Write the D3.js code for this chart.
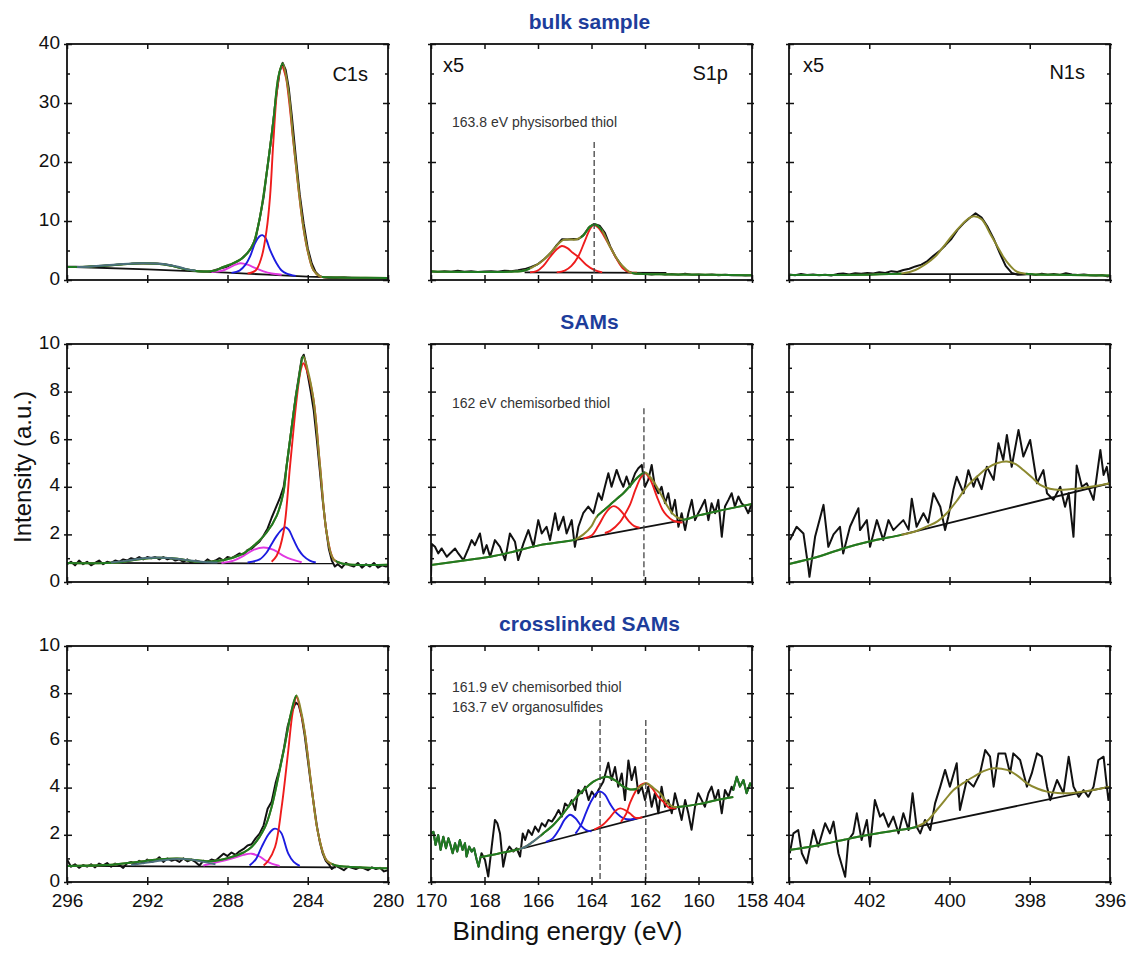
<!DOCTYPE html>
<html>
<head>
<meta charset="utf-8">
<script src="https://cdn.jsdelivr.net/npm/d3@7"></script>
<style>
  body { margin: 0; background: #fff; }
  text { font-family: "Liberation Sans", Arial, sans-serif; }
</style>
</head>
<body>
<script>
// ---- axes / categories ----
const rowTitles = ['bulk sample', 'SAMs', 'crosslinked SAMs'];
const xDomains = [[296, 280], [170, 158], [404, 396]];
const xTickVals = [[296, 292, 288, 284, 280], [170, 168, 166, 164, 162, 160, 158], [404, 402, 400, 398, 396]];
const yDomains = [[0, 40], [0, 10], [0, 10]];
const yTickVals = [[0, 10, 20, 30, 40], [0, 2, 4, 6, 8, 10], [0, 2, 4, 6, 8, 10]];
const yMinorVals = [[5, 15, 25, 35], [1, 3, 5, 7, 9], [1, 3, 5, 7, 9]];

// ---- C1s, bulk sample ---- [binding energy eV, intensity]
const c1sBulkRaw = [[296,2.2],[295.6,2.25],[295.2,2.2],[294.8,2.3],[294.4,2.35],[294,2.45],[293.6,2.55],[293.2,2.7],[292.8,2.75],[292.4,2.85],[292,2.8],[291.6,2.8],[291.2,2.7],[290.8,2.45],[290.4,2.1],[290,1.75],[289.6,1.55],[289.2,1.45],[288.8,1.5],[288.4,1.9],[288,2.3],[287.6,3.0],[287.3,3.6],[287,4.6],[286.8,5.5],[286.6,7.0],[286.4,10.3],[286.2,14.0],[286,19.3],[285.8,24.5],[285.6,30.5],[285.4,35.3],[285.25,36.8],[285.1,35.6],[284.95,32.6],[284.8,28],[284.6,21],[284.4,14.5],[284.2,9.5],[284,5.4],[283.8,2.8],[283.6,1.3],[283.4,0.65],[283.2,0.45],[283,0.4],[282.6,0.35],[282.2,0.42],[281.8,0.35],[281.4,0.3],[281,0.36],[280.6,0.3],[280.2,0.32],[280,0.3]];
const c1sBulkEnv = [[296,2.2],[295,2.25],[294,2.45],[293,2.7],[292.3,2.85],[291.5,2.75],[290.8,2.4],[290.2,1.9],[289.5,1.5],[289,1.45],[288.6,1.6],[288.37,1.98],[287.9,2.6],[287.38,3.4],[287,4.6],[286.71,6.2],[286.38,10.7],[286.05,18.1],[285.71,27.1],[285.46,34.5],[285.25,36.7],[284.97,32.2],[284.72,23.7],[284.47,15.8],[284.22,9.0],[283.97,4.5],[283.72,1.7],[283.39,0.6],[283,0.45],[282,0.4],[280,0.35]];
const c1sBulkBg = [[296,2.25],[292,1.8],[288,1.24],[286,0.9],[284,0.56],[282,0.38],[280,0.28]];
const c1sBulkRed = [[287.0,1.1],[286.6,1.6],[286.3,3.9],[286.05,8.5],[285.88,14.1],[285.71,23.7],[285.5,33],[285.3,36.2],[285.1,34.5],[284.97,31.5],[284.72,23.5],[284.47,15.6],[284.22,8.9],[283.97,4.4],[283.72,1.7],[283.4,0.6],[283.0,0.45]];
const c1sBulkBlue = [[287.8,1.2],[287.4,1.6],[287.1,2.6],[286.88,3.95],[286.63,6.2],[286.4,7.4],[286.26,7.6],[286.1,7.1],[285.88,5.1],[285.55,2.8],[285.3,1.6],[285.05,1.1],[284.6,0.7]];
const c1sBulkMag = [[288.8,1.35],[288.3,1.55],[287.9,2.1],[287.6,2.6],[287.35,2.85],[287.0,2.6],[286.6,2.0],[286.2,1.45],[285.8,1.1],[285.3,0.9]];
const c1sBulkHump = [[295.5,2.2],[294.8,2.3],[294,2.5],[293.2,2.72],[292.4,2.85],[291.6,2.8],[290.9,2.55],[290.4,2.2],[290,1.8],[289.6,1.6]];

// ---- C1s, SAMs ----
const c1sSamRaw = [[296,0.75],[295.8,0.85],[295.6,0.7],[295.4,0.9],[295.2,0.75],[295,0.85],[294.8,0.7],[294.6,0.8],[294.4,0.9],[294.2,0.75],[294,0.85],[293.8,0.8],[293.6,0.9],[293.4,0.85],[293.2,0.95],[293,0.9],[292.8,1.0],[292.6,0.95],[292.4,1.05],[292.2,0.95],[292,1.05],[291.8,1.0],[291.6,1.05],[291.4,0.95],[291.2,1.05],[291,0.95],[290.8,1.0],[290.6,0.9],[290.4,0.95],[290.2,0.85],[290,0.95],[289.8,0.8],[289.6,0.9],[289.4,0.85],[289.2,0.8],[289,0.95],[288.8,0.85],[288.6,0.9],[288.4,1.0],[288.2,0.9],[288,1.05],[287.8,1.0],[287.6,1.1],[287.4,1.2],[287.2,1.15],[287,1.35],[286.8,1.4],[286.6,1.55],[286.4,1.7],[286.2,1.95],[286,2.25],[285.8,2.7],[285.6,3.1],[285.4,3.5],[285.2,4.0],[285.0,5.2],[284.8,6.5],[284.6,7.8],[284.45,8.6],[284.3,9.4],[284.2,9.55],[284.1,9.2],[284.0,8.7],[283.85,8.0],[283.7,7.2],[283.55,6.0],[283.4,4.7],[283.25,3.4],[283.1,2.3],[282.95,1.4],[282.8,0.9],[282.65,0.65],[282.5,0.75],[282.3,0.6],[282.1,0.8],[281.9,0.7],[281.7,0.65],[281.5,0.8],[281.3,0.6],[281.1,0.75],[280.9,0.65],[280.7,0.8],[280.5,0.6],[280.3,0.7],[280.1,0.65],[280,0.7]];
const c1sSamEnv = [[296,0.8],[293.5,0.82],[292.5,0.95],[291.5,1.02],[290.5,0.98],[289.5,0.85],[288.5,0.88],[287.7,1.03],[287.2,1.2],[286.7,1.52],[286.05,2.08],[285.55,2.78],[285.21,3.77],[285.05,4.9],[284.88,6.0],[284.63,7.57],[284.47,8.41],[284.22,9.47],[284.0,8.9],[283.72,7.7],[283.39,4.9],[283.06,2.08],[282.72,0.96],[282.3,0.78],[280,0.72]];
const c1sSamBg = [[296,0.8],[282.7,0.78]];
const c1sSamRed = [[285.8,0.85],[285.55,1.1],[285.21,2.08],[284.88,4.9],[284.55,7.7],[284.35,8.9],[284.22,9.19],[284.05,8.9],[283.72,7.7],[283.39,4.9],[283.06,2.08],[282.72,0.96],[282.4,0.8]];
const c1sSamBlue = [[287,0.82],[286.4,0.95],[286.05,1.24],[285.8,1.6],[285.55,1.94],[285.3,2.2],[285.13,2.3],[284.95,2.2],[284.72,1.8],[284.45,1.35],[284.22,1.1],[283.9,0.9],[283.6,0.82]];
const c1sSamMag = [[288.3,0.8],[287.7,0.9],[287.2,1.1],[286.7,1.35],[286.2,1.45],[285.7,1.35],[285.21,1.1],[284.8,0.95],[284.3,0.83]];
const c1sSamHump = [[293.8,0.82],[293,0.9],[292.2,1.0],[291.5,1.03],[290.8,1.0],[290,0.92],[289.2,0.84],[288.5,0.82]];

// ---- C1s, crosslinked SAMs ----
const c1sXlRaw = [[296,0.95],[295.8,0.65],[295.6,0.75],[295.4,0.6],[295.2,0.72],[295,0.65],[294.8,0.75],[294.6,0.62],[294.4,0.78],[294.2,0.7],[294,0.8],[293.8,0.65],[293.6,0.78],[293.4,0.72],[293.2,0.6],[293,0.8],[292.8,0.85],[292.6,0.75],[292.4,0.9],[292.2,0.8],[292,0.95],[291.8,0.85],[291.6,0.9],[291.4,1.05],[291.2,0.85],[291,1.0],[290.8,0.9],[290.6,0.95],[290.4,0.85],[290.2,1.0],[290,0.88],[289.8,0.95],[289.6,0.85],[289.4,0.7],[289.2,0.9],[289,0.85],[288.8,0.95],[288.6,0.9],[288.4,1.05],[288.2,1.2],[288,1.1],[287.8,1.25],[287.6,1.15],[287.4,1.3],[287.2,1.4],[287,1.55],[286.8,1.6],[286.6,1.85],[286.4,2.05],[286.2,2.4],[286,3.1],[285.8,3.4],[285.6,4.2],[285.4,4.8],[285.2,5.6],[285,6.6],[284.8,7.2],[284.6,7.6],[284.45,7.5],[284.3,7.0],[284.15,6.2],[284,5.2],[283.85,4.2],[283.7,3.3],[283.55,2.4],[283.4,1.7],[283.25,1.2],[283.1,0.9],[282.95,0.75],[282.8,0.55],[282.6,0.68],[282.4,0.6],[282.2,0.5],[282,0.65],[281.8,0.6],[281.6,0.55],[281.4,0.62],[281.2,0.58],[281,0.5],[280.8,0.62],[280.6,0.55],[280.4,0.6],[280.2,0.45],[280,0.5]];
const c1sXlEnv = [[296,0.68],[294,0.72],[292.5,0.85],[291.5,0.95],[290.5,1.0],[289.5,0.92],[288.8,0.88],[287.8,1.06],[287.2,1.25],[286.8,1.48],[286.13,2.33],[285.8,3.18],[285.47,4.45],[285.13,5.86],[284.8,7.28],[284.56,7.9],[284.3,7.1],[284.14,6.29],[283.81,4.03],[283.48,2.05],[283.06,0.92],[282.6,0.7],[282,0.65],[280,0.58]];
const c1sXlBg = [[296,0.68],[282.6,0.62]];
const c1sXlRed = [[286.2,0.7],[285.97,0.9],[285.63,1.48],[285.3,3.18],[284.97,5.58],[284.75,7.2],[284.56,7.84],[284.35,7.2],[284.14,6.29],[283.81,4.03],[283.48,2.05],[283.06,0.92],[282.6,0.7]];
const c1sXlBlue = [[286.9,0.7],[286.6,0.95],[286.3,1.48],[285.97,2.0],[285.75,2.22],[285.63,2.26],[285.45,2.2],[285.3,2.05],[284.97,1.2],[284.7,0.85],[284.4,0.68]];
const c1sXlMag = [[289.2,0.7],[288.8,0.78],[287.8,0.99],[287.2,1.15],[286.8,1.2],[286.4,1.08],[286.13,0.92],[285.8,0.78],[285.4,0.68]];
const c1sXlHump = [[292.8,0.72],[292,0.82],[291.2,0.92],[290.5,0.98],[289.8,0.95],[289.2,0.85],[288.6,0.75]];

// ---- S2p (labelled S1p), bulk sample, x5 ----
const s2pBulkRaw = [[170,1.5],[169.75,1.35],[169.5,1.5],[169.25,1.4],[169,1.55],[168.75,1.4],[168.5,1.5],[168.25,1.35],[168,1.45],[167.75,1.5],[167.5,1.4],[167.25,1.55],[167,1.5],[166.75,1.65],[166.5,1.85],[166.25,2.2],[166,2.7],[165.75,3.6],[165.5,4.7],[165.3,5.9],[165.1,6.9],[164.9,6.85],[164.7,6.95],[164.5,6.9],[164.3,7.6],[164.1,8.9],[163.9,9.5],[163.7,9.2],[163.5,8.0],[163.3,5.7],[163.1,3.9],[162.9,2.6],[162.7,1.6],[162.5,1.2],[162.25,1.0],[162,1.05],[161.75,0.95],[161.5,1.1],[161.25,0.95],[161,1.0],[160.75,0.9],[160.5,1.05],[160.25,0.9],[160,0.95],[159.75,0.85],[159.5,0.95],[159.25,0.8],[159,0.9],[158.75,0.8],[158.5,0.85],[158.25,0.75],[158,0.8]];
const s2pBulkEnv = [[170,1.45],[167,1.4],[166.5,1.6],[166.17,2.26],[165.9,3.0],[165.67,3.95],[165.4,5.3],[165.2,6.3],[165.05,6.8],[164.8,6.85],[164.55,6.9],[164.3,7.6],[164.06,9.04],[163.87,9.4],[163.62,8.5],[163.31,5.65],[162.93,2.83],[162.7,1.8],[162.56,1.3],[162.2,1.05],[161,0.95],[158,0.8]];
const s2pBulkBg = [[166.5,1.3],[161.2,1.2]];
const s2pBulkRedA = [[166.3,1.3],[166.05,1.5],[165.8,2.4],[165.55,3.9],[165.3,5.2],[165.11,5.76],[164.9,5.4],[164.7,4.6],[164.5,3.95],[164.2,2.6],[163.9,1.7],[163.6,1.3]];
const s2pBulkRedB = [[165.3,1.3],[165.0,1.6],[164.75,2.4],[164.5,3.95],[164.25,6.6],[164.06,8.6],[163.93,9.32],[163.75,8.9],[163.55,7.6],[163.31,5.65],[163.1,3.9],[162.81,1.9],[162.56,1.3],[162.3,1.24]];
const s2pBulkDash = [[163.9, 23.4, 1.2]]; // [energy, top, bottom]

// ---- S2p, SAMs ----
const s2pSamRaw = [[170,0.25],[169.97,1.6],[169.85,1.48],[169.73,1.2],[169.6,1.41],[169.41,1.06],[169.29,1.2],[169.1,1.41],[168.98,1.2],[168.79,0.92],[168.6,1.41],[168.48,1.76],[168.36,1.55],[168.17,2.04],[168.04,1.2],[167.92,1.55],[167.79,1.06],[167.61,1.76],[167.42,1.48],[167.23,0.92],[167.05,2.04],[166.86,1.69],[166.74,0.92],[166.55,1.6],[166.36,2.18],[166.17,1.48],[165.99,2.6],[165.86,2.04],[165.68,2.32],[165.55,1.76],[165.36,2.89],[165.24,2.18],[165.05,2.74],[164.93,2.04],[164.74,2.6],[164.62,1.48],[164.49,2.32],[164.31,2.89],[164.12,3.17],[163.93,2.89],[163.74,3.73],[163.62,3.45],[163.5,4.0],[163.37,4.57],[163.25,4.0],[163.06,4.71],[162.93,4.29],[162.81,4.0],[162.69,4.43],[162.56,4.0],[162.37,4.57],[162.25,4.78],[162.12,4.92],[162.0,4.0],[161.88,4.29],[161.75,4.92],[161.63,4.0],[161.5,3.73],[161.38,4.0],[161.25,3.31],[161.13,3.73],[161.0,2.89],[160.88,3.45],[160.75,2.32],[160.63,2.89],[160.5,2.18],[160.38,2.89],[160.25,3.45],[160.13,2.6],[160.01,2.89],[159.88,3.17],[159.76,3.45],[159.63,2.6],[159.51,3.31],[159.38,2.89],[159.26,3.45],[159.13,1.9],[159.01,3.17],[158.88,3.45],[158.76,3.73],[158.64,3.17],[158.51,3.59],[158.39,3.31],[158.26,3.17],[158.14,2.89],[158.01,3.31]];
const s2pSamEnv = [[170,0.71],[168.5,0.95],[167.79,1.06],[167,1.25],[165.93,1.55],[165,1.7],[164.62,1.78],[164.3,2.0],[164.0,2.35],[163.81,2.74],[163.55,3.0],[163.31,3.24],[163.05,3.5],[162.81,3.73],[162.55,4.05],[162.31,4.36],[162.0,4.6],[161.8,4.4],[161.56,4.0],[161.19,3.24],[160.95,2.85],[160.8,2.72],[160.57,2.62],[160,2.8],[159.07,3.03],[158,3.28]];
const s2pSamBg = [[164.62,1.76],[160.57,2.6]];
const s2pSamRedA = [[164.3,1.83],[164.0,1.95],[163.75,2.35],[163.5,2.85],[163.3,3.12],[163.16,3.19],[163.0,3.1],[162.8,2.85],[162.6,2.55],[162.4,2.35],[162.2,2.28]];
const s2pSamRedB = [[163.5,2.06],[163.3,2.15],[162.93,2.53],[162.75,2.85],[162.56,3.25],[162.35,3.9],[162.15,4.4],[162.0,4.57],[161.8,4.3],[161.56,3.6],[161.35,3.05],[161.19,2.8],[160.95,2.58],[160.6,2.5]];
const s2pSamDash = [[162.04, 7.3, 0]];

// ---- S2p, crosslinked SAMs ----
const s2pXlRaw = [[170,2.06],[169.91,2.13],[169.83,1.57],[169.73,1.99],[169.64,1.36],[169.54,1.92],[169.44,1.43],[169.35,1.85],[169.29,1.64],[169.19,1.22],[169.1,1.64],[169.02,1.29],[168.92,1.78],[168.82,1.36],[168.73,1.64],[168.67,1.08],[168.57,1.5],[168.48,1.29],[168.39,1.43],[168.29,0.93],[168.22,0.65],[168.17,0.93],[168.11,1.22],[167.98,0.93],[167.86,0.23],[167.73,1.5],[167.61,2.63],[167.52,2.49],[167.42,2.06],[167.3,0.65],[167.2,1.22],[167.07,1.5],[166.92,1.29],[166.8,1.43],[166.67,1.08],[166.57,2.06],[166.48,1.78],[166.36,2.2],[166.23,1.99],[166.11,2.35],[165.98,2.13],[165.86,2.49],[165.73,2.35],[165.61,2.63],[165.48,2.56],[165.36,2.77],[165.23,3.05],[165.11,2.77],[164.99,3.33],[164.86,3.19],[164.74,3.47],[164.61,3.05],[164.49,3.9],[164.36,3.76],[164.24,4.04],[164.11,3.47],[163.99,3.83],[163.86,3.61],[163.74,3.9],[163.56,4.25],[163.37,5.05],[163.25,4.32],[163.12,4.87],[163.0,4.04],[162.87,4.6],[162.75,3.47],[162.62,5.15],[162.5,4.32],[162.37,4.87],[162.25,3.76],[162.12,4.04],[162.0,3.47],[161.88,4.04],[161.75,3.19],[161.63,3.76],[161.5,2.91],[161.38,4.04],[161.25,3.19],[161.13,3.47],[161.0,2.91],[160.88,3.76],[160.75,3.19],[160.63,2.63],[160.5,3.47],[160.38,2.91],[160.26,2.21],[160.13,3.19],[160.01,3.76],[159.88,3.47],[159.76,3.19],[159.63,3.76],[159.51,4.04],[159.38,3.47],[159.26,3.9],[159.13,2.91],[159.01,3.9],[158.88,3.61],[158.76,4.04],[158.7,3.9],[158.57,4.46],[158.45,4.04],[158.32,4.32],[158.2,3.76],[158.07,4.18],[158,4.04]];
const s2pXlEnv = [[168.17,1.05],[167.5,1.2],[166.55,1.45],[166.2,1.7],[165.8,2.06],[165.4,2.45],[165.05,2.91],[164.75,3.35],[164.43,3.76],[164.15,4.05],[163.93,4.25],[163.65,4.4],[163.43,4.46],[163.1,4.3],[162.81,4.04],[162.55,3.92],[162.31,3.95],[162.1,4.1],[161.94,4.18],[161.7,4.0],[161.44,3.76],[161.2,3.4],[160.94,3.19],[160.6,3.2],[160.0,3.3],[159.4,3.45],[158.7,3.6]];
const s2pXlBg = [[166.55,1.43],[160.82,3.12]];
const s2pXlBlueA = [[165.7,1.7],[165.45,1.85],[165.2,2.25],[165.0,2.65],[164.8,2.85],[164.6,2.7],[164.4,2.4],[164.2,2.2],[164.0,2.15]];
const s2pXlBlueB = [[164.6,2.05],[164.4,2.4],[164.2,2.95],[164.0,3.45],[163.8,3.78],[163.66,3.83],[163.5,3.7],[163.3,3.3],[163.05,2.91],[162.8,2.7],[162.55,2.65],[162.3,2.7]];
const s2pXlRedA = [[163.9,2.22],[163.6,2.4],[163.3,2.75],[163.1,3.02],[162.93,3.12],[162.75,3.05],[162.56,2.9],[162.35,2.72],[162.1,2.75]];
const s2pXlRedB = [[162.9,2.55],[162.7,2.9],[162.56,3.35],[162.35,3.85],[162.15,4.12],[161.94,4.18],[161.75,4.0],[161.5,3.6],[161.31,3.4],[161.1,3.15],[160.85,3.12]];
const s2pXlDash = [[163.68, 6.86, 0], [161.97, 6.86, 0]];

// ---- N1s, bulk sample, x5 ----
const n1sBulkRaw = [[404,0.95],[403.85,0.8],[403.7,1.0],[403.55,0.85],[403.4,0.95],[403.25,0.8],[403.1,0.9],[402.95,0.75],[402.8,1.0],[402.65,1.1],[402.5,0.95],[402.35,1.15],[402.2,1.05],[402.05,1.2],[401.9,1.1],[401.75,1.3],[401.6,1.2],[401.45,1.5],[401.3,1.35],[401.15,1.7],[401,1.9],[400.85,2.3],[400.7,2.6],[400.55,3.2],[400.4,4.1],[400.25,4.9],[400.1,5.9],[399.95,7.0],[399.8,8.5],[399.65,9.6],[399.5,10.5],[399.35,11.3],[399.2,10.6],[399.05,9.0],[398.9,7.0],[398.75,4.6],[398.6,2.4],[398.45,1.2],[398.3,0.9],[398.15,0.95],[398,1.0],[397.85,0.85],[397.7,1.05],[397.55,0.9],[397.4,1.0],[397.25,0.85],[397.1,1.15],[396.95,0.95],[396.8,0.85],[396.65,0.95],[396.5,0.8],[396.35,0.75],[396.2,0.85],[396.05,0.6],[396,0.75]];
const n1sBulkEnv = [[404,0.85],[403,0.85],[402,0.9],[401.5,1.0],[401.15,1.13],[400.85,1.7],[400.57,2.8],[400.35,4.0],[400.15,5.65],[399.95,7.4],[399.74,9.04],[399.55,10.3],[399.4,10.8],[399.2,10.3],[398.99,7.9],[398.8,5.6],[398.66,3.95],[398.5,2.5],[398.32,1.4],[398.1,1.05],[397.9,0.95],[397,0.85],[396,0.75]];
const n1sBulkBg = [[401.5,1.0],[398.1,1.0]];

// ---- N1s, SAMs ----
const n1sSamRaw = [[403.98,1.76],[403.81,2.32],[403.64,2.04],[403.52,0.64],[403.49,0.22],[403.35,1.9],[403.14,3.24],[403.02,1.48],[402.89,2.0],[402.73,2.32],[402.65,1.2],[402.48,2.32],[402.27,3.1],[402.23,2.18],[402.06,2.6],[401.98,1.48],[401.81,2.6],[401.65,1.76],[401.52,2.6],[401.4,2.18],[401.27,2.4],[401.15,2.6],[401.02,2.2],[400.94,3.5],[400.82,2.32],[400.65,2.89],[400.53,2.5],[400.4,3.73],[400.23,3.16],[400.11,2.18],[400.03,2.74],[399.9,3.9],[399.82,4.42],[399.65,3.73],[399.53,4.7],[399.4,4.0],[399.32,4.42],[399.2,3.9],[399.07,4.84],[398.9,4.29],[398.78,5.83],[398.66,5.13],[398.57,6.18],[398.45,4.84],[398.28,6.39],[398.16,5.27],[397.99,5.97],[397.82,4.15],[397.66,4.7],[397.57,3.73],[397.41,3.45],[397.24,4.0],[397.12,3.16],[397.03,3.73],[396.91,1.9],[396.83,4.9],[396.7,4.0],[396.58,4.15],[396.41,3.45],[396.24,5.55],[396.16,4.5],[396.08,4.84],[395.95,3.45]];
const n1sSamEnv = [[404,0.76],[403.3,1.05],[402.65,1.41],[402,1.7],[401.23,1.97],[400.9,2.1],[400.57,2.33],[400.3,2.55],[400.07,2.89],[399.8,3.45],[399.57,4.0],[399.3,4.45],[399.07,4.78],[398.8,5.0],[398.57,5.06],[398.35,4.95],[398.16,4.71],[397.95,4.4],[397.74,4.08],[397.5,3.92],[397.24,3.87],[397.0,3.9],[396.74,3.94],[396.4,4.02],[396,4.15]];
const n1sSamBg = [[401.23,1.97],[396,4.15]];

// ---- N1s, crosslinked SAMs ----
const n1sXlRaw = [[403.98,1.22],[403.89,2.06],[403.77,2.2],[403.68,1.22],[403.56,0.79],[403.39,2.2],[403.27,1.5],[403.1,2.49],[402.98,2.06],[402.89,2.56],[402.77,1.22],[402.6,0.22],[402.52,1.78],[402.4,2.06],[402.31,2.91],[402.19,1.78],[402.06,2.63],[401.98,1.5],[401.86,3.47],[401.73,2.77],[401.65,2.91],[401.52,2.34],[401.4,2.77],[401.27,2.06],[401.15,2.91],[401.02,2.2],[400.92,3.76],[400.82,2.34],[400.73,2.06],[400.61,2.63],[400.48,2.2],[400.36,3.33],[400.23,4.04],[400.11,4.75],[399.99,4.04],[399.82,5.03],[399.74,3.05],[399.57,4.32],[399.4,4.04],[399.24,4.6],[399.11,5.59],[398.99,5.31],[398.9,4.04],[398.78,5.45],[398.61,5.45],[398.49,4.6],[398.41,5.45],[398.24,5.17],[398.07,4.04],[397.95,4.6],[397.82,5.45],[397.7,5.31],[397.57,4.04],[397.49,3.47],[397.32,4.32],[397.16,3.76],[397.03,5.31],[396.91,4.04],[396.78,3.61],[396.66,3.9],[396.54,3.61],[396.41,4.04],[396.29,5.17],[396.16,5.31],[396.04,3.47],[395.95,4.25]];
const n1sXlEnv = [[404,1.36],[403.3,1.55],[402.6,1.8],[402,2.0],[401.4,2.17],[400.82,2.34],[400.55,2.6],[400.32,3.05],[400.1,3.5],[399.9,3.9],[399.65,4.2],[399.4,4.46],[399.15,4.7],[398.9,4.82],[398.57,4.75],[398.3,4.5],[398.07,4.18],[397.8,3.95],[397.57,3.83],[397.3,3.77],[397.07,3.76],[396.6,3.85],[396,4.04]];
const n1sXlBg = [[400.82,2.34],[396,4.04]];

// ---- layout & style ----
const colX = [[67, 388], [431, 752], [789, 1110]];
const rowY = [[44, 280], [344, 582], [646, 882]];
const COL = {
  black: '#111111', red: '#ee1c1c', blue: '#1c1ce0', magenta: '#e038e0',
  teal: '#4d707e', green: '#1f7a22', olive: '#8c892f', title: '#1d3d9b', note: '#333333',
};
const FONT = '"Liberation Sans", Arial, sans-serif';

// comps drawn before the envelope; tops drawn over it (the shake-up humps)
const panels = [
  { row: 0, col: 0, raw: c1sBulkRaw, bg: c1sBulkBg, env: c1sBulkEnv,
    envSpans: [[285.2, 296.5, 'green'], [279, 283.3, 'green']],
    comps: [[c1sBulkMag, 'magenta'], [c1sBulkBlue, 'blue'], [c1sBulkRed, 'red']],
    tops: [[c1sBulkHump, 'teal']],
    labels: [{ t: 'C1s', dx: -20, dy: 37, anchor: 'end', size: 20 }] },
  { row: 0, col: 1, raw: s2pBulkRaw, bg: s2pBulkBg, env: s2pBulkEnv,
    envSpans: [[166.3, 171, 'green'], [163.6, 164.4, 'green'], [157, 162.5, 'green']],
    comps: [[s2pBulkRedA, 'red'], [s2pBulkRedB, 'red']], dashes: s2pBulkDash,
    labels: [{ t: 'x5', dx: 12, dy: 28, size: 20 }, { t: 'S1p', dx: -24, dy: 36, anchor: 'end', size: 20 },
      { t: '163.8 eV physisorbed thiol', dx: 21, dy: 83, size: 14, fill: COL.note }] },
  { row: 0, col: 2, raw: n1sBulkRaw, bg: n1sBulkBg, env: n1sBulkEnv,
    envSpans: [[401.2, 405, 'green'], [395, 398.1, 'green']], comps: [],
    labels: [{ t: 'x5', dx: 14, dy: 28, size: 20 }, { t: 'N1s', dx: -25, dy: 35, anchor: 'end', size: 20 }] },
  { row: 1, col: 0, raw: c1sSamRaw, bg: c1sSamBg, env: c1sSamEnv,
    envSpans: [[284.2, 296.5, 'green'], [279, 282.6, 'green']],
    comps: [[c1sSamMag, 'magenta'], [c1sSamBlue, 'blue'], [c1sSamRed, 'red']],
    tops: [[c1sSamHump, 'teal']], labels: [] },
  { row: 1, col: 1, raw: s2pSamRaw, bg: s2pSamBg, env: s2pSamEnv,
    envSpans: [[164.6, 171, 'green'], [162.0, 163.8, 'green'], [157, 160.6, 'green']],
    comps: [[s2pSamRedA, 'red'], [s2pSamRedB, 'red']], dashes: s2pSamDash,
    labels: [{ t: '162 eV chemisorbed thiol', dx: 21, dy: 64, size: 14, fill: COL.note }] },
  { row: 1, col: 2, raw: n1sSamRaw, bg: n1sSamBg, env: n1sSamEnv,
    envSpans: [[401.2, 405, 'green']], comps: [], labels: [] },
  { row: 2, col: 0, raw: c1sXlRaw, bg: c1sXlBg, env: c1sXlEnv,
    envSpans: [[284.55, 296.5, 'green'], [279, 282.8, 'green']],
    comps: [[c1sXlMag, 'magenta'], [c1sXlBlue, 'blue'], [c1sXlRed, 'red']],
    tops: [[c1sXlHump, 'teal']], labels: [] },
  { row: 2, col: 1, raw: s2pXlRaw, bg: s2pXlBg, env: s2pXlEnv,
    rawSpans: [[168.15, 171, 'green'], [157, 158.72, 'green']],
    envSpans: [[165.9, 166.7, 'teal'], [162.3, 165.9, 'green'], [166.7, 169, 'green'], [157, 160.8, 'green']],
    comps: [[s2pXlBlueA, 'blue'], [s2pXlBlueB, 'blue'], [s2pXlRedA, 'red'], [s2pXlRedB, 'red']], dashes: s2pXlDash,
    labels: [{ t: '161.9 eV chemisorbed thiol', dx: 21, dy: 46, size: 14, fill: COL.note },
      { t: '163.7 eV organosulfides', dx: 21, dy: 66, size: 14, fill: COL.note }] },
  { row: 2, col: 2, raw: n1sXlRaw, bg: n1sXlBg, env: n1sXlEnv,
    envSpans: [[400.8, 405, 'green']], comps: [], labels: [] },
];

const svg = d3.select('body').append('svg')
  .attr('width', 1130)
  .attr('height', 953)
  .style('display', 'block');
const defs = svg.append('defs');
let clipCount = 0;

// clip path helper, returns url
function clipRect(x, y, w, h) {
  const id = `clip${clipCount += 1}`;
  defs.append('clipPath').attr('id', id)
    .append('rect').attr('x', x).attr('y', y).attr('width', w).attr('height', h);
  return `url(#${id})`;
}

const byEnergyDesc = (a, b) => b[0] - a[0];

panels.forEach((p) => {
  const [x0, x1] = colX[p.col];
  const [y0, y1] = rowY[p.row];
  const x = d3.scaleLinear().domain(xDomains[p.col]).range([x0, x1]);
  const y = d3.scaleLinear().domain(yDomains[p.row]).range([y1, y0]);

  const g = svg.append('g');
  const plot = g.append('g').attr('clip-path', clipRect(x0, y0, x1 - x0, y1 - y0));

  const rawLine = d3.line().x(d => x(d[0])).y(d => y(d[1]));
  const fitLine = d3.line().x(d => x(d[0])).y(d => y(d[1]))
    .curve(d3.curveCatmullRom.alpha(0.5));

  // spans are [eLow, eHigh, colour] -> clip rect in pixel space
  const spanClip = s => clipRect(x(s[1]), y0, x(s[0]) - x(s[1]), y1 - y0);

  // raw spectrum
  const raw = p.raw.slice().sort(byEnergyDesc);
  plot.append('path').datum(raw)
    .attr('d', rawLine).attr('fill', 'none')
    .attr('stroke', COL.black).attr('stroke-width', 2).attr('stroke-linejoin', 'round');
  (p.rawSpans || []).forEach((s) => {
    plot.append('g').attr('clip-path', spanClip(s))
      .append('path').datum(raw)
      .attr('d', rawLine).attr('fill', 'none')
      .attr('stroke', COL[s[2]]).attr('stroke-width', 2).attr('stroke-linejoin', 'round');
  });

  // background
  plot.append('path').datum(p.bg.slice().sort(byEnergyDesc))
    .attr('d', rawLine).attr('fill', 'none')
    .attr('stroke', COL.black).attr('stroke-width', 1.8);

  // fitted components
  const drawFit = ([data, c]) => {
    plot.append('path').datum(data.slice().sort(byEnergyDesc))
      .attr('d', fitLine).attr('fill', 'none')
      .attr('stroke', COL[c]).attr('stroke-width', 1.9);
  };
  p.comps.forEach(drawFit);

  // envelope: olive by default, other colours on spans
  const env = p.env.slice().sort(byEnergyDesc);
  plot.append('path').datum(env)
    .attr('d', fitLine).attr('fill', 'none')
    .attr('stroke', COL.olive).attr('stroke-width', 2);
  p.envSpans.forEach((s) => {
    plot.append('g').attr('clip-path', spanClip(s))
      .append('path').datum(env)
      .attr('d', fitLine).attr('fill', 'none')
      .attr('stroke', COL[s[2]]).attr('stroke-width', 2);
  });
  (p.tops || []).forEach(drawFit);

  // dashed position markers
  (p.dashes || []).forEach(([e, top, bot]) => {
    g.append('line')
      .attr('x1', x(e)).attr('x2', x(e))
      .attr('y1', y(top)).attr('y2', y(bot))
      .attr('stroke', '#444').attr('stroke-width', 1.3)
      .attr('stroke-dasharray', '6,3');
  });

  // ---- axes ----
  const styleAxis = (sel) => {
    sel.select('.domain').remove();
    sel.selectAll('.tick line').attr('stroke', COL.black).attr('stroke-width', 1.5);
    sel.selectAll('.tick text')
      .attr('font-size', 19).attr('font-family', FONT).attr('fill', COL.black);
  };
  const xt = xTickVals[p.col];
  const yt = yTickVals[p.row];
  const ym = yMinorVals[p.row];

  // bottom: outward part (with labels on last row) + inward part
  const bottomOut = d3.axisBottom(x).tickValues(xt).tickSizeInner(3).tickSizeOuter(0).tickPadding(9);
  if (p.row !== 2) bottomOut.tickFormat('');
  g.append('g').attr('transform', `translate(0,${y1})`).call(bottomOut).call(styleAxis);
  g.append('g').attr('transform', `translate(0,${y1})`)
    .call(d3.axisBottom(x).tickValues(xt).tickSizeInner(-5).tickSizeOuter(0).tickFormat(''))
    .call(styleAxis);
  // top
  g.append('g').attr('transform', `translate(0,${y0})`)
    .call(d3.axisTop(x).tickValues(xt).tickSizeInner(-5).tickSizeOuter(0).tickFormat(''))
    .call(styleAxis);

  // left: outward (labels on first column) + inward + minor
  const leftOut = d3.axisLeft(y).tickValues(yt).tickSizeInner(3).tickSizeOuter(0).tickPadding(4);
  if (p.col !== 0) leftOut.tickFormat('');
  g.append('g').attr('transform', `translate(${x0},0)`).call(leftOut).call(styleAxis)
    .call(s => s.selectAll('.tick text').attr('dy', '0.22em'));
  g.append('g').attr('transform', `translate(${x0},0)`)
    .call(d3.axisLeft(y).tickValues(yt).tickSizeInner(-5).tickSizeOuter(0).tickFormat(''))
    .call(styleAxis);
  g.append('g').attr('transform', `translate(${x0},0)`)
    .call(d3.axisLeft(y).tickValues(ym).tickSizeInner(-3).tickSizeOuter(0).tickFormat(''))
    .call(styleAxis);
  // right: mirrored ticks
  g.append('g').attr('transform', `translate(${x1},0)`)
    .call(d3.axisRight(y).tickValues(yt).tickSizeInner(-5).tickSizeOuter(0).tickFormat(''))
    .call(styleAxis);
  g.append('g').attr('transform', `translate(${x1},0)`)
    .call(d3.axisRight(y).tickValues(yt).tickSizeInner(2).tickSizeOuter(0).tickFormat(''))
    .call(styleAxis);
  g.append('g').attr('transform', `translate(${x1},0)`)
    .call(d3.axisRight(y).tickValues(ym).tickSizeInner(-3).tickSizeOuter(0).tickFormat(''))
    .call(styleAxis);

  // frame
  g.append('rect')
    .attr('x', x0).attr('y', y0).attr('width', x1 - x0).attr('height', y1 - y0)
    .attr('fill', 'none').attr('stroke', COL.black).attr('stroke-width', 1.8);

  // panel labels
  p.labels.forEach((l) => {
    g.append('text')
      .attr('x', l.anchor === 'end' ? x1 + l.dx : x0 + l.dx)
      .attr('y', y0 + l.dy)
      .attr('text-anchor', l.anchor || 'start')
      .attr('font-size', l.size)
      .attr('fill', l.fill || COL.black)
      .text(l.t);
  });
});

// row titles, centred over the middle column
rowTitles.forEach((t, i) => {
  svg.append('text')
    .attr('x', (colX[1][0] + colX[1][1]) / 2 - 2)
    .attr('y', rowY[i][0] - 15)
    .attr('text-anchor', 'middle')
    .attr('font-size', 21)
    .attr('font-weight', 'bold')
    .attr('fill', COL.title)
    .text(t);
});

// shared axis titles
svg.append('text')
  .attr('transform', `translate(31,${(rowY[0][0] + rowY[2][1]) / 2 + 4}) rotate(-90)`)
  .attr('text-anchor', 'middle')
  .attr('font-size', 24)
  .attr('fill', COL.black)
  .text('Intensity (a.u.)');

svg.append('text')
  .attr('x', (colX[1][0] + colX[1][1]) / 2 - 24)
  .attr('y', 940)
  .attr('text-anchor', 'middle')
  .attr('font-size', 26)
  .attr('fill', COL.black)
  .text('Binding energy (eV)');
</script>
</body>
</html>
